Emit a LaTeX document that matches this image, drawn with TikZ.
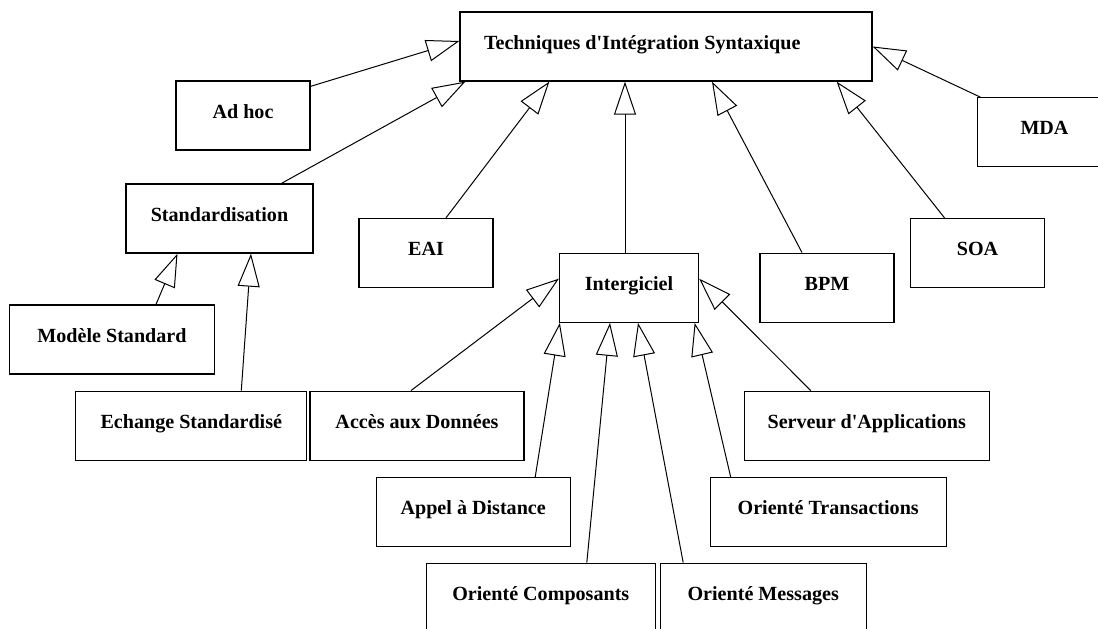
\documentclass[tikz,border=0pt]{standalone}
\usepackage{fontspec}
\setmainfont{Liberation Serif}
\usetikzlibrary{arrows.meta,positioning,calc}

\begin{document}
\begin{tikzpicture}[x=1pt,y=-1pt,
  classe/.style={draw,line width=1.3pt,minimum height=69pt,inner sep=0pt,
    text height=14pt,text depth=9pt,
    font=\bfseries\fontsize{20.1}{23}\selectfont},
  herite/.style={-{Triangle[open,length=33pt,width=22pt]},line width=1pt}]
  \useasboundingbox (0,0) rectangle (1098,629);
  \clip (0,0) rectangle (1098,629);

  % root class
  \node[classe,inner xsep=24pt] (tech) at (666,46.5)
    {\makebox[364pt][l]{Techniques d\textquotesingle Intégration Syntaxique}};

  % first level
  \node[classe,minimum width=134pt] (adhoc) at (243,115.5) {Ad hoc};
  \node[classe,minimum width=187pt] (std) at (219.5,218.5) {Standardisation};
  \node[classe,minimum width=134pt] (eai) at (426,253) {EAI};
  \node[classe,minimum width=139pt] (inter) at (629,287.7) {Intergiciel};
  \node[classe,minimum width=134pt] (bpm) at (827,287.7) {BPM};
  \node[classe,minimum width=134pt] (soa) at (977.5,253) {SOA};
  \node[classe,minimum width=134pt] (mda) at (1044.5,132.3) {MDA};

  % below Standardisation
  \node[classe,minimum width=205pt] (modele) at (112,339.5) {Modèle Standard};
  \node[classe,minimum width=231pt] (echange) at (191.3,425.7) {Echange Standardisé};

  % below Intergiciel
  \node[classe,minimum width=214pt] (acces) at (417,425.7) {Accès aux Données};
  \node[classe,minimum width=245pt] (serveur) at (866.7,425.7) {Serveur d\textquotesingle Applications};
  \node[classe,minimum width=194pt] (appel) at (473.2,512.2) {Appel à Distance};
  \node[classe,minimum width=236pt] (trans) at (828.2,512.2) {Orienté Transactions};
  \node[classe,minimum width=229pt] (comp) at (540.8,597.8) {Orienté Composants};
  \node[classe,minimum width=206pt] (msg) at (763.2,597.8) {Orienté Messages};

  % generalisation arrows to the root
  \draw[herite] ([yshift=-6pt]adhoc.north east) -- ([yshift=5.5pt]tech.west);
  \draw[herite] ([xshift=62pt]std.north) -- ([xshift=6pt]tech.south west);
  \draw[herite] ([xshift=20pt]eai.north) -- ([xshift=90pt]tech.south west);
  \draw[herite] ([xshift=-4pt]inter.north) -- ([xshift=-41pt]tech.south);
  \draw[herite] ([xshift=-25pt]bpm.north) -- ([xshift=46pt]tech.south);
  \draw[herite] ([xshift=-33pt]soa.north) -- ([xshift=-36pt]tech.south east);
  \draw[herite] ([xshift=3.5pt]mda.north west) -- (tech.east);

  % to Standardisation
  \draw[herite] ([xshift=44pt]modele.north) -- ([xshift=-42pt]std.south);
  \draw[herite] ([xshift=50pt]echange.north) -- ([xshift=31.5pt]std.south);

  % to Intergiciel
  \draw[herite] ([xshift=-6pt]acces.north) -- ([yshift=9pt]inter.west);
  \draw[herite] ([xshift=62pt]appel.north) -- ([xshift=1pt]inter.south west);
  \draw[herite] ([xshift=46pt]comp.north) -- ([xshift=-19pt]inter.south);
  \draw[herite] ([xshift=-80pt]msg.north) -- ([xshift=9pt]inter.south);
  \draw[herite] ([xshift=-97.5pt]trans.north) -- ([xshift=-4.5pt]inter.south east);
  \draw[herite] ([xshift=-56pt]serveur.north) -- ([yshift=9pt]inter.east);
\end{tikzpicture}
\end{document}
